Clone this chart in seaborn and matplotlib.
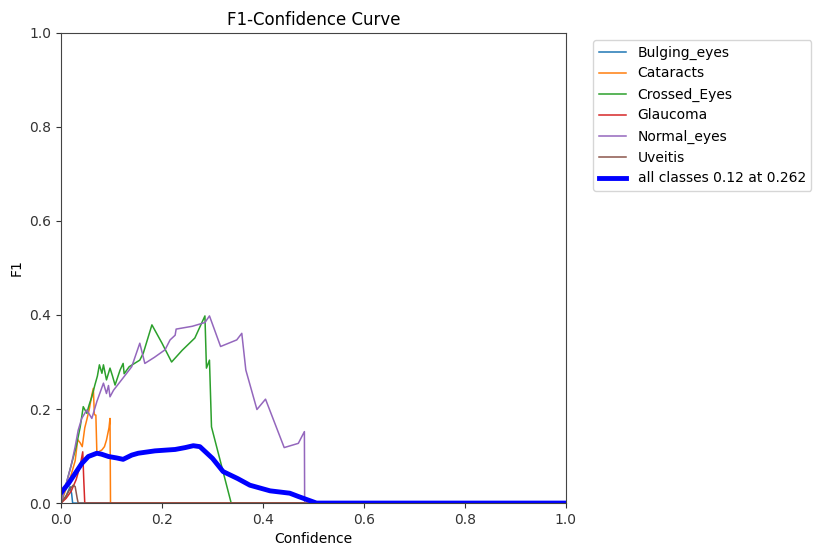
import numpy as np
import pandas as pd
import matplotlib
matplotlib.use("Agg")
import matplotlib.pyplot as plt
import seaborn as sns

# per-class F1 curves
bulging_x = [0, 0.01, 0.018, 0.021, 0.023, 1.0]
bulging_y = [0, 0.015, 0.035, 0.02, 0, 0]

cataracts_x = [0, 0.01, 0.02, 0.028, 0.033, 0.038, 0.042, 0.047, 0.051, 0.056, 0.061, 0.064,
               0.066, 0.069, 0.071, 0.076, 0.081, 0.086, 0.09, 0.095, 0.097, 0.098, 1.0]
cataracts_y = [0, 0.03, 0.06, 0.09, 0.135, 0.128, 0.12, 0.16, 0.177, 0.2, 0.23, 0.244,
               0.188, 0.187, 0.106, 0.11, 0.113, 0.12, 0.134, 0.16, 0.18, 0, 0]

crossed_x = [0, 0.01, 0.02, 0.03, 0.038, 0.044, 0.051, 0.056, 0.061, 0.067, 0.072, 0.076,
             0.081, 0.084, 0.09, 0.097, 0.102, 0.107, 0.117, 0.123, 0.125, 0.135, 0.15, 0.156,
             0.163, 0.18, 0.2, 0.219, 0.24, 0.265, 0.285, 0.288, 0.294, 0.298, 0.337, 1.0]
crossed_y = [0, 0.04, 0.08, 0.12, 0.162, 0.205, 0.191, 0.21, 0.226, 0.251, 0.27, 0.294,
             0.276, 0.294, 0.262, 0.287, 0.27, 0.251, 0.283, 0.297, 0.275, 0.29, 0.30, 0.304,
             0.319, 0.379, 0.34, 0.30, 0.325, 0.351, 0.398, 0.287, 0.304, 0.162, 0, 0]

glaucoma_x = [0, 0.01, 0.02, 0.03, 0.038, 0.043, 0.045, 0.047, 1.0]
glaucoma_y = [0, 0.01, 0.025, 0.05, 0.08, 0.109, 0.05, 0, 0]

normal_x = [0, 0.01, 0.02, 0.028, 0.034, 0.041, 0.051, 0.061, 0.071, 0.084, 0.09, 0.094,
            0.097, 0.104, 0.117, 0.13, 0.14, 0.156, 0.166, 0.185, 0.206, 0.216, 0.226, 0.228,
            0.26, 0.285, 0.294, 0.316, 0.348, 0.358, 0.366, 0.388, 0.405, 0.442, 0.47, 0.482,
            0.4825, 1.0]
normal_y = [0, 0.04, 0.08, 0.12, 0.155, 0.18, 0.198, 0.18, 0.216, 0.255, 0.233, 0.25,
            0.226, 0.24, 0.258, 0.276, 0.29, 0.340, 0.297, 0.31, 0.326, 0.347, 0.357, 0.370,
            0.376, 0.384, 0.398, 0.333, 0.347, 0.361, 0.283, 0.199, 0.221, 0.118, 0.127, 0.152,
            0, 0]

uveitis_x = [0, 0.01, 0.018, 0.024, 0.028, 0.032, 0.034, 1.0]
uveitis_y = [0, 0.015, 0.03, 0.038, 0.035, 0.01, 0, 0]

# mean over classes
all_x = [0, 0.015, 0.028, 0.041, 0.054, 0.071, 0.08, 0.094, 0.11, 0.123, 0.14, 0.153, 0.186,
         0.226, 0.246, 0.262, 0.275, 0.3, 0.321, 0.35, 0.374, 0.414, 0.453, 0.47, 0.506, 1.0]
all_y = [0.022, 0.042, 0.063, 0.084, 0.099, 0.106, 0.104, 0.099, 0.096, 0.093, 0.102, 0.106,
         0.111, 0.114, 0.118, 0.122, 0.120, 0.095, 0.067, 0.052, 0.038, 0.026, 0.021, 0.014, 0, 0]

classes = [("Bulging_eyes", bulging_x, bulging_y),
           ("Cataracts", cataracts_x, cataracts_y),
           ("Crossed_Eyes", crossed_x, crossed_y),
           ("Glaucoma", glaucoma_x, glaucoma_y),
           ("Normal_eyes", normal_x, normal_y),
           ("Uveitis", uveitis_x, uveitis_y)]

fig = plt.figure(figsize=(8.17, 5.48), dpi=100)
ax = fig.add_axes([0.0747, 0.082, 0.618, 0.858])

colors = sns.color_palette("tab10")
for i, (name, xs, ys) in enumerate(classes):
    sns.lineplot(x=xs, y=ys, ax=ax, color=colors[i], linewidth=1.1, label=name,
                 sort=False, estimator=None)

sns.lineplot(x=all_x, y=all_y, ax=ax, color="blue", linewidth=3.5,
             label="all classes 0.12 at 0.262", sort=False, estimator=None)

ax.set_xlim(0, 1)
ax.set_ylim(0, 1)
ax.set_xlabel("Confidence", fontsize=10)
ax.set_ylabel("F1", fontsize=10)
ax.set_title("F1-Confidence Curve", fontsize=12)
ax.tick_params(labelsize=10, colors="#333333")
for s in ax.spines.values():
    s.set_color("#444444")
ax.legend(bbox_to_anchor=(1.04, 1), loc="upper left", fontsize=10)

fig.savefig("out.png", dpi=100)
